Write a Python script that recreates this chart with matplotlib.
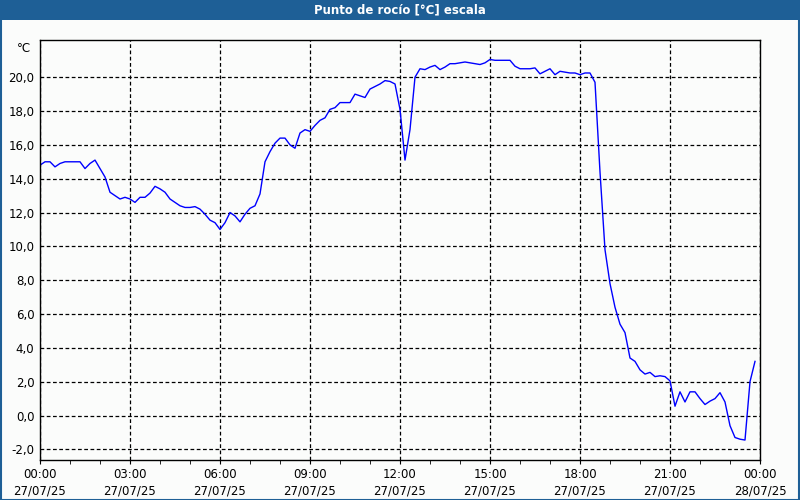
import matplotlib
matplotlib.use("Agg")
import matplotlib.pyplot as plt
import matplotlib.dates as mdates
from matplotlib.patches import Rectangle
from matplotlib.ticker import FuncFormatter, FixedLocator
import pandas as pd

# dew point, one reading every 10 minutes from 27/07/25 00:00
start = "2025-07-27 00:00"
dew_point = [
    14.8, 15.0, 15.0, 14.7, 14.9, 15.0, 15.0, 15.0, 15.0, 14.6, 14.9, 15.1,
    14.6, 14.1, 13.2, 13.0, 12.8, 12.9, 12.8, 12.6, 12.9, 12.9, 13.15, 13.55,
    13.4, 13.2, 12.8, 12.6, 12.4, 12.3, 12.3, 12.35, 12.2, 11.9, 11.55, 11.4,
    11.0, 11.4, 12.0, 11.8, 11.45, 11.9, 12.25, 12.4, 13.1, 15.0, 15.6, 16.1,
    16.4, 16.4, 16.0, 15.8, 16.7, 16.9, 16.8, 17.15, 17.45, 17.6, 18.1, 18.2,
    18.5, 18.5, 18.5, 19.0, 18.9, 18.8, 19.3, 19.45, 19.6, 19.8, 19.75, 19.6,
    18.1, 15.1, 16.9, 20.0, 20.5, 20.45, 20.6, 20.7, 20.45, 20.6, 20.8, 20.8,
    20.85, 20.9, 20.85, 20.8, 20.75, 20.85, 21.05, 21.0, 21.0, 21.0, 21.0, 20.65,
    20.5, 20.5, 20.5, 20.55, 20.2, 20.35, 20.5, 20.15, 20.35, 20.3, 20.25, 20.25,
    20.15, 20.25, 20.25, 19.7, 14.4, 9.8, 7.8, 6.4, 5.4, 4.9, 3.4, 3.2,
    2.7, 2.45, 2.55, 2.3, 2.35, 2.3, 2.05, 0.55, 1.4, 0.8, 1.4, 1.4,
    1.0, 0.65, 0.85, 1.0, 1.35, 0.8, -0.6, -1.3, -1.4, -1.45, 2.0, 3.2,
]
times = pd.date_range(start, periods=len(dew_point), freq="10min")
y_ticks = [-2, 0, 2, 4, 6, 8, 10, 12, 14, 16, 18, 20]

title = "Punto de rocío [°C] escala"
bg = "#fbfcfb"
blue = "#1e5f96"

fig = plt.figure(figsize=(8, 5), dpi=100, facecolor=bg)
ax = fig.add_axes([0.05, 0.08, 0.90, 0.84])
ax.set_facecolor(bg)

ax.plot(times, dew_point, color="#0000ff", lw=1)

ax.set_xlim(pd.Timestamp("2025-07-27 00:00"), pd.Timestamp("2025-07-28 00:00"))
ax.set_ylim(-2.63, 22.2)

ax.xaxis.set_major_locator(mdates.HourLocator(byhour=range(0, 24, 3)))
ax.xaxis.set_minor_locator(mdates.HourLocator())
ax.xaxis.set_major_formatter(mdates.DateFormatter("%H:%M\n%d/%m/%y"))
ax.yaxis.set_major_locator(FixedLocator(y_ticks))
ax.yaxis.set_major_formatter(FuncFormatter(lambda v, p: f"{v:.1f}".replace(".", ",")))

ax.grid(True, which="major", color="black", lw=0.9, linestyle=(0, (3, 2)))
ax.tick_params(axis="y", length=0, pad=4, labelsize=8.5)
ax.tick_params(axis="x", which="both", length=3, direction="out", pad=3, labelsize=8.5)
for lbl in ax.get_xticklabels():
    lbl.set_linespacing(1.35)
for s in ax.spines.values():
    s.set_color("black")
    s.set_linewidth(1)

ax.text(-0.012, 0.995, "°C", transform=ax.transAxes, ha="right", va="top", fontsize=8.5)

# title bar and window frame
fig.patches.append(Rectangle((0, 0.96), 1, 0.04, transform=fig.transFigure,
                             facecolor=blue, edgecolor="none", zorder=0))
fig.patches.append(Rectangle((0.001, 0.001), 0.998, 0.998, transform=fig.transFigure,
                             facecolor="none", edgecolor=blue, lw=1.5, zorder=1))
fig.text(0.5, 0.98, title, color="white", ha="center", va="center",
         fontsize=8.5, fontweight="bold")

fig.savefig("out.png", dpi=100, facecolor=bg)
